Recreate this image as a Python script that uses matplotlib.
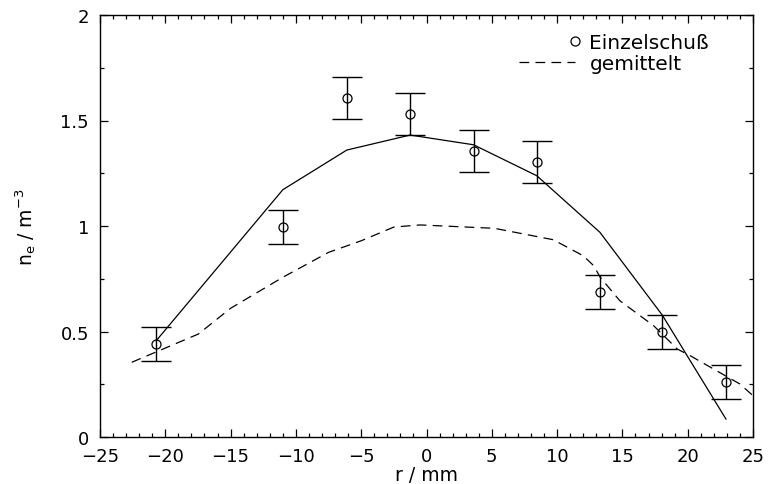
import numpy as np
import matplotlib
matplotlib.use("Agg")
import matplotlib.pyplot as plt
from matplotlib.legend_handler import HandlerLine2D
from matplotlib.ticker import MultipleLocator

plt.rcParams['font.family'] = ['DejaVu Sans']
plt.rcParams['lines.scale_dashes'] = False

# Einzelschuß measurements
r_single = [-20.7, -11.0, -6.1, -1.25, 3.6, 8.45, 13.25, 18.05, 22.9]
n_single = [0.44, 0.995, 1.607, 1.53, 1.357, 1.302, 0.686, 0.496, 0.259]
n_err = [0.08, 0.08, 0.10, 0.10, 0.10, 0.10, 0.08, 0.08, 0.08]

# solid fit line
r_fit = [-20.7, -11.0, -6.1, -1.25, 3.6, 8.45, 13.28, 18.05, 22.93]
n_fit = [0.456, 1.172, 1.360, 1.431, 1.385, 1.238, 0.970, 0.578, 0.085]

# gemittelt (averaged) profile
r_avg = [-22.57, -17.47, -15.0, -11.0, -7.5, -5.0, -2.5, -0.5, 5.2, 9.7,
         12.0, 12.8, 13.3, 14.8, 17.4, 19.2, 20.2, 24.0, 25.0]
n_avg = [0.354, 0.488, 0.61, 0.757, 0.875, 0.93, 0.995, 1.005, 0.989, 0.935,
         0.859, 0.812, 0.757, 0.646, 0.527, 0.417, 0.385, 0.251, 0.196]

xticks = [-25, -20, -15, -10, -5, 0, 5, 10, 15, 20, 25]
yticks = [0, 0.5, 1, 1.5, 2]
ytick_labels = ['0', '0.5', '1', '1.5', '2']

fig = plt.figure(figsize=(7.68, 4.85), dpi=100)
ax = fig.add_axes([100/768, 47/485, 653/768, 422/485])

ax.errorbar(r_single, n_single, yerr=n_err, fmt='none', ecolor='black',
            elinewidth=1.0, capsize=15*0.72, capthick=1.0, zorder=3)
pts, = ax.plot(r_single, n_single, linestyle='none', marker='o', markersize=6.5,
               markerfacecolor='none', markeredgecolor='black',
               markeredgewidth=0.9, label='Einzelschuß', zorder=4)
ax.plot(r_fit, n_fit, color='black', linewidth=0.9, zorder=2)
avg, = ax.plot(r_avg, n_avg, color='black', linewidth=0.9, linestyle=(0, (7.0, 4.5)),
               label='gemittelt', zorder=2)

ax.set_xlim(-25, 25)
ax.set_ylim(0, 2)
ax.set_xticks(xticks)
ax.set_xticklabels([str(t).replace('-', '\u2212') for t in xticks])
ax.set_yticks(yticks)
ax.set_yticklabels(ytick_labels)
ax.xaxis.set_minor_locator(MultipleLocator(1))
ax.yaxis.set_minor_locator(MultipleLocator(0.25))
ax.tick_params(which='both', direction='in', top=True, right=True,
               labelsize=13, width=0.9)
ax.tick_params(which='major', length=6)
ax.tick_params(axis='x', which='major', pad=7)
ax.tick_params(axis='y', which='major', pad=8)
ax.tick_params(which='minor', length=3)
for s in ax.spines.values():
    s.set_linewidth(1.0)

ax.set_xlabel('r / mm', fontsize=13.5, labelpad=0.5)
ax.set_ylabel(r'n$_\mathregular{e}$ / m$^\mathregular{-3}$', fontsize=13.5, labelpad=16)


class EndMarker(HandlerLine2D):
    def create_artists(self, *args, **kwargs):
        arts = super().create_artists(*args, **kwargs)
        for a in arts:
            a.set_markevery([2])
        return arts


leg = ax.legend(handles=[pts, avg], loc='upper left',
                bbox_to_anchor=((519-100)/653, (438-34)/422),
                frameon=False, fontsize=14.5, numpoints=1, borderpad=0,
                borderaxespad=0, handlelength=2.8, handletextpad=0.7,
                labelspacing=0.1, handler_map={pts: EndMarker()})

fig.savefig('out.png', dpi=100)
